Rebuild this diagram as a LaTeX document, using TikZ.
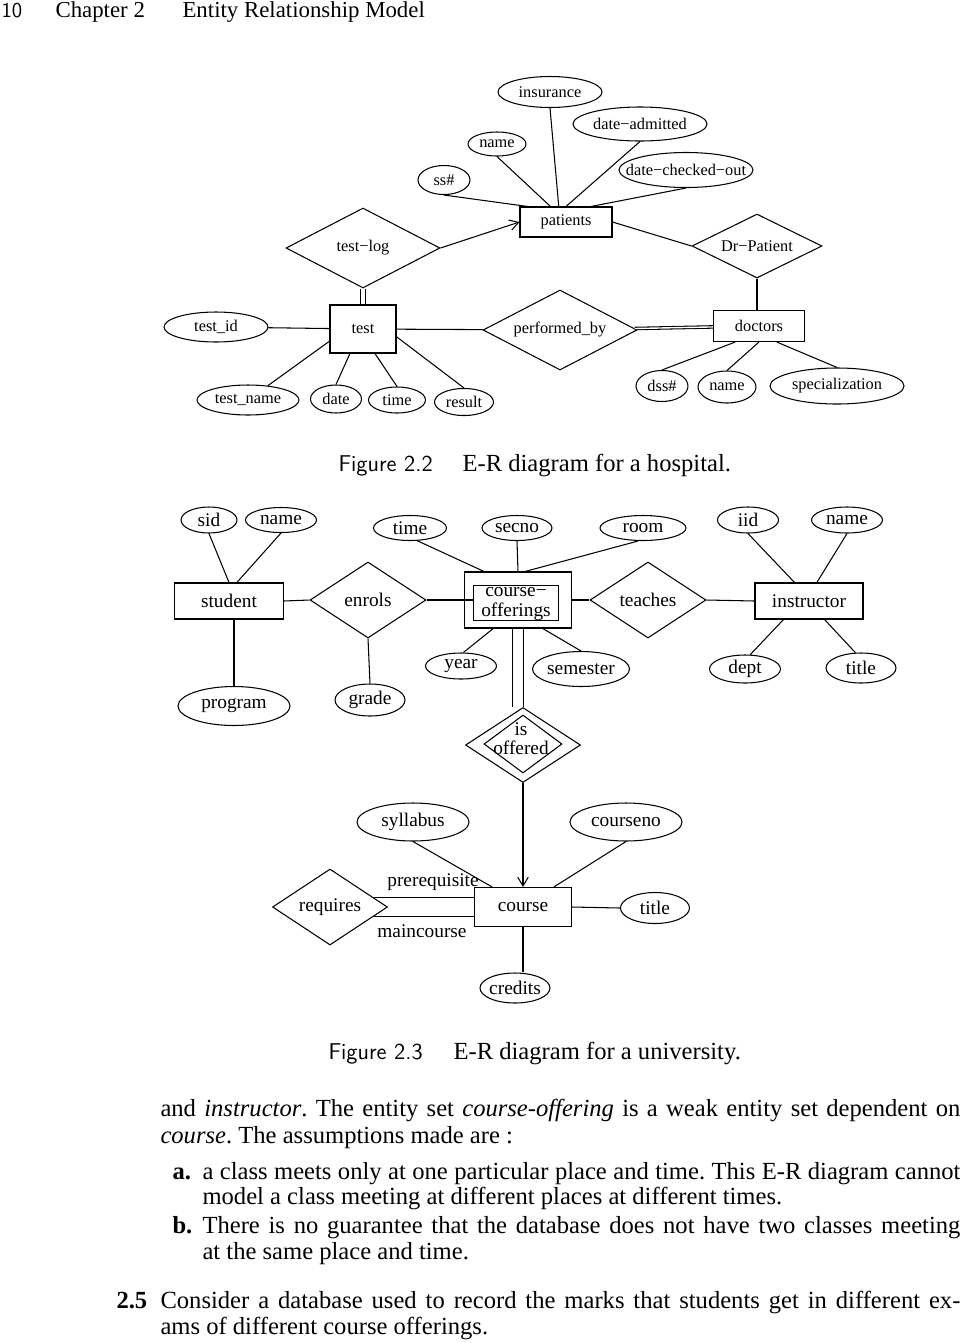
\documentclass[tikz,border=0pt]{standalone}
\usepackage{fontspec}
\setmainfont{Liberation Serif}
\usepackage{tikz}
\usetikzlibrary{arrows.meta, calc, shapes.geometric}

\newcommand{\hosp}{\fontsize{9.3}{10}\selectfont}
\newcommand{\univ}{\fontsize{11}{11}\selectfont}
\newcommand{\bodyf}{\fontsize{14}{16}\selectfont\frenchspacing}

\tikzset{
  sz/.style 2 args={minimum width=#1*0.02cm, minimum height=#2*0.02cm},
  attr/.style={ellipse, draw, inner xsep=-8pt, inner ysep=0pt},
  ent/.style={rectangle, draw, inner sep=0pt},
  rel/.style={diamond, draw, aspect=2, inner sep=0pt},
  txt/.style={anchor=base west, inner sep=0pt},
  >={Straight Barb[length=5pt, width=6pt]}
}

\begin{document}
\begin{tikzpicture}[x=0.02cm, y=-0.02cm, line width=0.6pt]
\useasboundingbox (0,0) rectangle (960,1343);

% running head
\node[txt, font=\sffamily\fontsize{12}{12}\selectfont] (pgno) at (1,17) {10};
\node[txt, font=\fontsize{13}{13}\selectfont] (chap) at (55,17) {Chapter 2};
\node[txt, font=\fontsize{13}{13}\selectfont] (chapname) at (182,17) {Entity Relationship Model};

% hospital
\begin{scope}[font=\hosp]
\node[attr, sz={104}{31}] (insur) at (550,92) {insurance};
\node[attr, sz={58}{24}] (pname) at (497,144) {name};
\node[attr, sz={134}{34}] (dadmit) at (640,124) {date−admitted};
\node[attr, sz={134}{35}] (dcheck) at (686,170) {date−checked−out};
\node[attr, sz={52}{29}] (ssn) at (444,180) {ss\#};
\node[ent, sz={92}{30}] (patients) at (566,222) {patients};
\node[rel, sz={154}{80}] (testlog) at (363,248) {test−log};
\node[rel, sz={130}{64}] (drpat) at (757,246) {Dr−Patient};
\node[attr, sz={104}{30}] (testid) at (216,327) {test\_id};
\node[ent, sz={66}{48}] (test) at (363,329) {test};
\node[rel, sz={154}{80}] (perfby) at (560,330) {performed\_by};
\node[ent, sz={91}{31}] (doctors) at (759,326) {doctors};
\node[attr, sz={102}{30}] (tname) at (248,400) {test\_name};
\node[attr, sz={51}{28}] (tdate) at (336,399) {date};
\node[attr, sz={57}{26}] (ttime) at (397,400) {time};
\node[attr, sz={59}{27}] (tresult) at (464,402) {result};
\node[attr, sz={52}{31}] (dssn) at (662,386) {dss\#};
\node[attr, sz={58}{32}] (dname) at (727,387) {name};
\node[attr, sz={134}{36}] (dspec) at (837,386) {specialization};

\draw (ssn.south) -- (patients.158);
\draw (pname.south) -- (patients.135);
\draw (insur.south) -- (patients.115);
\draw (dadmit.south) -- (patients.north);
\draw (dcheck.south) -- (patients.32);
\draw[->] (testlog.east) -- (patients.west);
\draw (patients.east) -- (drpat.west);
\draw[double, double distance=2.4pt] (testlog.south) -- (test.north);
\draw (drpat.south) -- (drpat.south |- doctors.north);
\draw (testid) -- (test);
\draw (test) -- (perfby);
\draw[double, double distance=0.8pt] (perfby) -- (doctors);
\draw (tname) -- (test.200);
\draw (tdate.north) -- (test.242);
\draw (ttime.north) -- (test.296);
\draw (tresult.north) -- (test.347);
\draw (dssn.north) -- (doctors.214);
\draw (dname.north) -- (doctors.south);
\draw (dspec.north) -- (doctors.318);
\end{scope}

\node[txt, font=\sffamily\fontsize{13}{13}\selectfont] (fig22) at (338,471) {Figure 2.2};
\node[txt, font=\bodyf] (cap22) at (462,471) {E-R diagram for a hospital.};

% university
\begin{scope}[font=\univ]
\node[attr, sz={56}{26}] (sid) at (209,520) {sid};
\node[attr, sz={71}{25}] (sname) at (281,520) {name};
\node[attr, sz={73}{25}] (otime) at (410,528) {time};
\node[attr, sz={70}{25}] (secno) at (517,528) {secno};
\node[attr, sz={86}{25}] (room) at (643,528) {room};
\node[attr, sz={61}{26}] (iid) at (748,520) {iid};
\node[attr, sz={71}{26}] (iname) at (847,520) {name};
\node[ent, sz={109}{36}] (student) at (229,601) {student};
\node[rel, sz={116}{76}] (enrols) at (368,600) {enrols};
\node[ent, sz={107}{56}] (cofr) at (518,600) {};
\node[ent, sz={85}{35}] (cofrin) at (516,603) {};
\node[align=center, inner sep=0pt] (cofrtxt) at (516,604) {course−\\offerings};
\node[rel, sz={116}{76}] (teaches) at (648,600) {teaches};
\node[ent, sz={108}{36}] (instr) at (809,601) {instructor};
\node[attr, sz={112}{39}] (program) at (234,706) {program};
\node[attr, sz={70}{32}] (grade) at (370,700) {grade};
\node[attr, sz={71}{26}] (year) at (461,666) {year};
\node[attr, sz={97}{35}] (semester) at (581,669) {semester};
\node[attr, sz={71}{28}] (dept) at (745,669) {dept};
\node[attr, sz={70}{30}] (ititle) at (861,668) {title};
\node[rel, sz={115}{75}] (isoff) at (523,745) {};
\node[rel, sz={78}{58}] (isoffin) at (523,744) {};
\node[align=center, inner sep=0pt] (isofftxt) at (521,739) {is\\offered};
\node[attr, sz={112}{38}] (syllabus) at (413,822) {syllabus};
\node[attr, sz={112}{38}] (courseno) at (626,822) {courseno};
\node[rel, sz={115}{76}] (requires) at (330,907) {requires};
\node[ent, sz={97}{39}] (course) at (523,907) {course};
\node[attr, sz={69}{31}] (ctitle) at (655,908) {title};
\node[attr, sz={70}{30}] (credits) at (515,988) {credits};
\node[inner sep=0pt] (prereq) at (433,882) {prerequisite};
\node[inner sep=0pt] (maincrs) at (422,931) {maincourse};

\draw (sid.south) -- (student.north);
\draw (sname.south) -- (student.67);
\draw (otime.300) -- (cofr.140);
\draw (secno.south) -- (cofr.north);
\draw (room.250) -- (cofr.76);
\draw (iid.south) -- (instr.128);
\draw (iname.south) -- (instr.67);
\draw (student.east) -- (enrols.west);
\draw (enrols.east) -- (enrols.east -| cofrin.west);
\draw (cofr.east) -- (teaches.west);
\draw (teaches.east) -- (instr.west);
\draw (program.north |- student.south) -- (program.north);
\draw (enrols.south) -- (grade.north);
\draw (cofr.229) -- (year.80);
\draw (cofr.311) -- (semester.north);
\draw (instr.216) -- (dept.70);
\draw (instr.310) -- (ititle.110);
\draw[double, double distance=5.7pt] (cofr.south) -- (cofr.south |- isoff.north);
\draw[->] (isoff.south) -- (isoff.south |- course.north);
\draw (syllabus.south) -- (course.147);
\draw (courseno.south) -- (course.33);
\draw (course.east) -- (ctitle.west);
\draw (course.south) -- (course.south |- credits.north);
\draw (requires.12) -- (requires.12 -| course.west);
\draw (requires.-12) -- (requires.-12 -| course.west);
\end{scope}

\node[txt, font=\sffamily\fontsize{13}{13}\selectfont] (fig23) at (328,1059) {Figure 2.3};
\node[txt, font=\bodyf] (cap23) at (453,1059) {E-R diagram for a university.};

% text below the figure
\begin{scope}[font=\bodyf]
\node[txt] (ln1) at (160,1116) {\makebox[16cm][s]{and \emph{instructor}. The entity set \emph{course-offering} is a weak entity set dependent on}};
\node[txt] (ln2) at (160,1143) {\emph{course}. The assumptions made are :};
\node[txt] (itema) at (172,1179) {\textbf{a.}};
\node[txt] (ln3) at (202,1179) {\makebox[15.16cm][s]{a class meets only at one particular place and time. This E-R diagram cannot}};
\node[txt] (ln4) at (202,1204) {model a class meeting at different places at different times.};
\node[txt] (itemb) at (172,1233) {\textbf{b.}};
\node[txt] (ln5) at (202,1233) {\makebox[15.16cm][s]{There is no guarantee that the database does not have two classes meeting}};
\node[txt] (ln6) at (202,1259) {at the same place and time.};
\node[txt] (exno) at (116,1308) {\textbf{2.5}};
\node[txt] (ln7) at (160,1308) {\makebox[16cm][s]{Consider a database used to record the marks that students get in different ex-}};
\node[txt] (ln8) at (160,1334) {ams of different course offerings.};
\end{scope}
\end{tikzpicture}
\end{document}
